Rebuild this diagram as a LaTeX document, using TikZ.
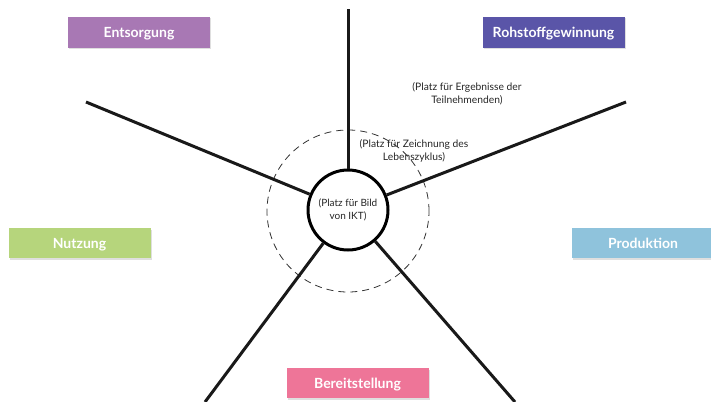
\documentclass[tikz,border=0pt]{standalone}
\usepackage{fontspec}
\setmainfont{Lato}
\usetikzlibrary{shadows}
\definecolor{cEnt}{HTML}{A878B4}
\definecolor{cRoh}{HTML}{5A55A8}
\definecolor{cNut}{HTML}{B6D57C}
\definecolor{cPro}{HTML}{8FC3DC}
\definecolor{cBer}{HTML}{EE7598}
\tikzset{
  phase/.style={minimum width=142pt, minimum height=31pt, inner sep=0pt, text=white,
    text height=10pt, text depth=0pt,
    font=\fontsize{14}{16}\selectfont\bfseries,
    drop shadow={opacity=0.25, shadow xshift=1.2pt, shadow yshift=-1.5pt}},
  spoke/.style={line width=3pt, black!90},
  note/.style={align=center, font=\fontsize{10.3}{13}\selectfont, text=black!85, inner sep=0pt}
}
\begin{document}
\begin{tikzpicture}[x=1pt,y=-1pt]
\useasboundingbox (0,0) rectangle (711,401);
\node[draw, dashed, dash pattern=on 7pt off 5pt, circle, minimum size=162pt, line width=0.8pt, black!80] (dc) at (348,211) {};
\node[circle, draw, line width=3pt, minimum size=80pt, inner sep=0pt, fill=white, align=center,
  font=\fontsize{10}{13}\selectfont, text=black!85] (c) at (348,210) {(Platz für Bild\\von IKT)};
\coordinate (pt) at (348,9);
\coordinate (pul) at (86,102);
\coordinate (pur) at (626,102);
\coordinate (pll) at (205,402);
\coordinate (plr) at (515,402);
\draw[spoke] (c) -- (pt);
\draw[spoke] (c) -- (pul);
\draw[spoke] (c) -- (pur);
\draw[spoke] (c) -- (pll);
\draw[spoke] (c) -- (plr);
\node[note] (n1) at (467,94) {(Platz für Ergebnisse der\\Teilnehmenden)};
\node[note] (n2) at (414,151) {(Platz für Zeichnung des\\Lebenszyklus)};
\node[phase, fill=cEnt] (ent) at (139,32.5) {Entsorgung};
\node[phase, fill=cRoh] (roh) at (553.5,32.5) {Rohstoffgewinnung};
\node[phase, fill=cNut, minimum height=30pt] (nut) at (79.5,243) {Nutzung};
\node[phase, fill=cPro, minimum height=30pt] (pro) at (643,243) {Produktion};
\node[phase, fill=cBer, minimum height=30pt] (ber) at (357.5,383) {Bereitstellung};
\end{tikzpicture}
\end{document}
